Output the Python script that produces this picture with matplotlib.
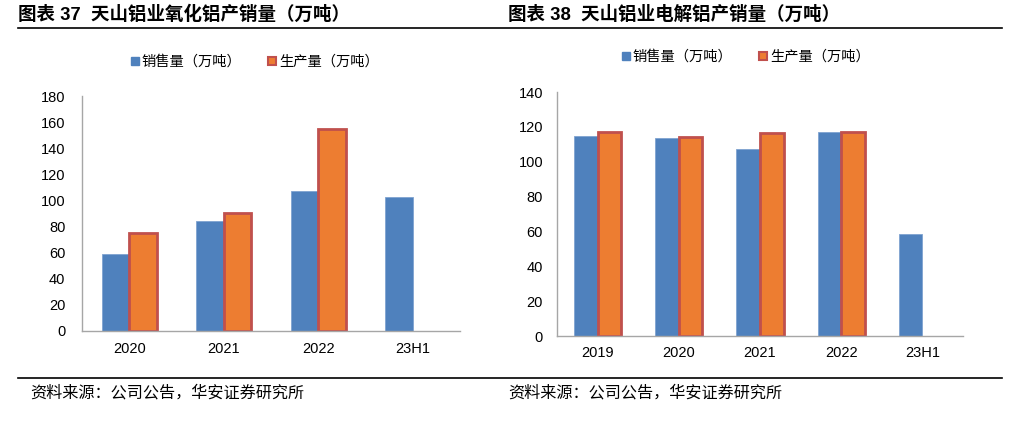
import matplotlib.pyplot as plt
from matplotlib.lines import Line2D
import numpy as np

plt.rcParams['font.family'] = ['Liberation Sans', 'Noto Sans CJK SC', 'DejaVu Sans']

# data
# ----

cats_l = ["2020", "2021", "2022", "23H1"]
sales_l = [59.2, 84.0, 107.5, 102.6]
prod_l = [74.8, 90.6, 154.5, np.nan]

cats_r = ["2019", "2020", "2021", "2022", "23H1"]
sales_r = [115.0, 113.5, 107.4, 117.0, 58.5]
prod_r = [117.0, 113.9, 116.2, 116.8, np.nan]

title_l = "图表 37  天山铝业氧化铝产销量（万吨）"
title_r = "图表 38  天山铝业电解铝产销量（万吨）"
source = "资料来源：公司公告，华安证券研究所"
lab_sales = "销售量（万吨）"
lab_prod = "生产量（万吨）"

blue = "#4F81BD"
orange = "#ED7D31"
red = "#C0504D"
grey = "#A6A6A6"

W, H = 1012, 421
fig = plt.figure(figsize=(W / 100, H / 100), dpi=100)


def px_axes(left, top, right, bottom):
    return fig.add_axes([left / W, 1 - bottom / H, (right - left) / W, (bottom - top) / H])


def draw(ax, cats, sales, prod, ymax, ypad, xpad):
    x = np.arange(len(cats))
    w = 0.29
    ax.bar(x - w / 2, sales, w, color=blue, edgecolor="#7FA3D0", linewidth=0.6)
    ax.bar(x + w / 2, prod, w, color=orange, edgecolor=red, linewidth=2)
    ax.set_xlim(-0.5, len(cats) - 0.5)
    ax.set_ylim(0, ymax)
    ax.set_yticks(np.arange(0, ymax + 1, 20))
    ax.set_xticks(x)
    ax.set_xticklabels(cats)
    for s in ["top", "right"]:
        ax.spines[s].set_visible(False)
    for s in ["left", "bottom"]:
        ax.spines[s].set_color(grey)
        ax.spines[s].set_linewidth(1)
    ax.tick_params(axis="both", length=0, labelsize=10.5)
    ax.tick_params(axis="y", pad=ypad)
    ax.tick_params(axis="x", pad=xpad)


ax1 = px_axes(82, 96, 460, 331)
draw(ax1, cats_l, sales_l, prod_l, 180, 12, 8)

ax2 = px_axes(557, 92, 963, 336)
draw(ax2, cats_r, sales_r, prod_r, 140, 10, 7)

# legends
handles = [
    Line2D([], [], marker="s", linestyle="none", markersize=6, markerfacecolor=blue, markeredgecolor=blue),
    Line2D([], [], marker="s", linestyle="none", markersize=6, markerfacecolor=orange, markeredgecolor=red,
           markeredgewidth=1.5),
]
for cx, cy in [(255, 62), (746, 57)]:
    fig.legend(handles, [lab_sales, lab_prod], loc="center", bbox_to_anchor=(cx / W, 1 - cy / H),
               ncol=2, frameon=False, handlelength=0.5, handletextpad=0.25,
               columnspacing=1.9, prop={"family": ["Noto Sans CJK SC"], "size": 10.3})

# titles, rules, source
fig.text(18 / W, 1 - 15 / H, title_l, fontsize=13.3, fontweight="bold", va="center", ha="left")
fig.text(508 / W, 1 - 15 / H, title_r, fontsize=13.3, fontweight="bold", va="center", ha="left")
fig.add_artist(Line2D([18 / W, 1002 / W], [1 - 28 / H, 1 - 28 / H], color="black", linewidth=1.2))
fig.add_artist(Line2D([18 / W, 1002 / W], [1 - 378 / H, 1 - 378 / H], color="black", linewidth=1.2))
fig.text(30 / W, 1 - 393 / H, source, fontsize=11.6, va="center", ha="left",
         family=["Noto Sans CJK SC"])
fig.text(508 / W, 1 - 393 / H, source, fontsize=11.6, va="center", ha="left",
         family=["Noto Sans CJK SC"])

plt.savefig("out.png", dpi=100)
plt.close()
